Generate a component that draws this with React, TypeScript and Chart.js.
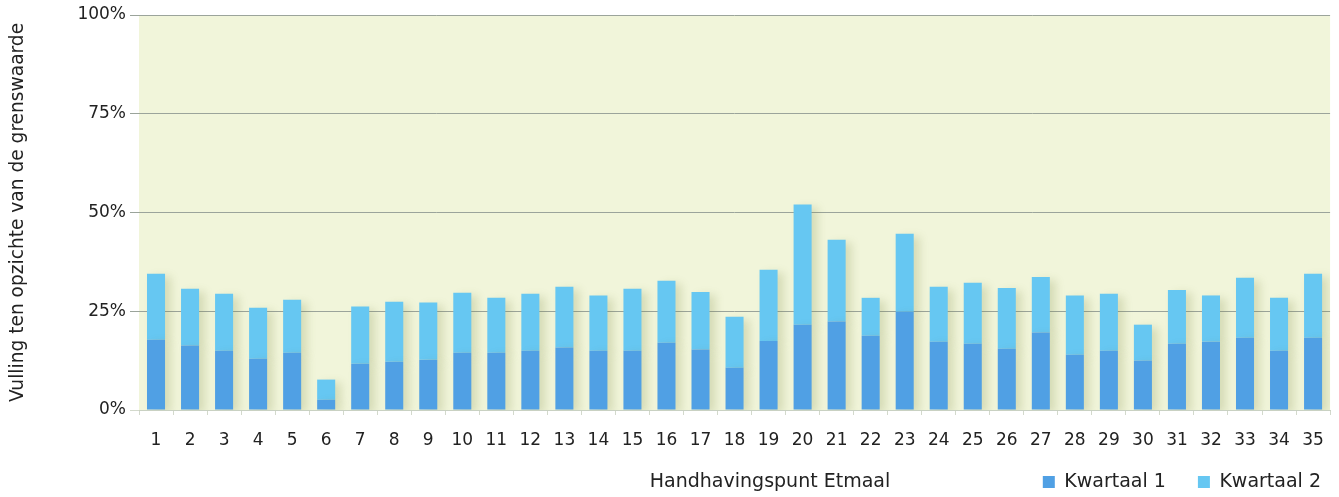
import React, { useEffect, useRef } from "react";
import { Chart, registerables } from "chart.js";

Chart.register(...registerables);

const categories = Array.from({ length: 35 }, (_, i) => String(i + 1));
const kwartaal1 = [
  17.8, 16.3, 15.0, 13.0, 14.5, 2.6, 11.7, 12.2, 12.7, 14.5, 14.5, 15.0, 15.8, 15.0, 15.0, 17.0, 15.3, 10.7,
  17.5, 21.6, 22.4, 18.8, 24.9, 17.3, 16.8, 15.5, 19.6, 14.0, 15.0, 12.5, 16.8, 17.3, 18.3, 15.0, 18.3,
];
const kwartaal2 = [
  16.7, 14.4, 14.4, 12.9, 13.4, 5.1, 14.5, 15.2, 14.5, 15.2, 13.9, 14.4, 15.4, 14.0, 15.7, 15.7, 14.6, 12.9,
  18.0, 30.4, 20.7, 9.6, 19.7, 13.9, 15.4, 15.4, 14.1, 15.0, 14.4, 9.1, 13.6, 11.7, 15.2, 13.4, 16.2,
];
const yTicks = [0, 25, 50, 75, 100];
const seriesNames = ["Kwartaal 1", "Kwartaal 2"];
const yTitle = "Vulling ten opzichte van de grenswaarde";
const xTitle = "Handhavingspunt Etmaal";

const FONT = '"DejaVu Sans", sans-serif';
const TEXT = "#222222";
const LEGEND_PAD = 32;
const LEGEND_FONT = 19;
const LEGEND_FIT_HEIGHT = 40;

const bgPlugin = {
  id: "plotBg",
  beforeDraw(chart: any) {
    const { ctx, chartArea } = chart;
    ctx.save();
    ctx.fillStyle = "#F1F5DA";
    ctx.fillRect(chartArea.left, chartArea.top, chartArea.right - chartArea.left, chartArea.bottom - chartArea.top);
    ctx.restore();
  },
};

const shadowPlugin = {
  id: "barShadow",
  beforeDatasetsDraw(chart: any) {
    const ctx = chart.ctx;
    ctx.save();
    ctx.shadowColor = "rgba(120,130,60,0.22)";
    ctx.shadowBlur = 8;
    ctx.shadowOffsetX = 6;
    ctx.shadowOffsetY = 3;
  },
  afterDatasetsDraw(chart: any) {
    chart.ctx.restore();
  },
};

// Legend sits on the same line as the x-axis title, at the lower right.
const legendPlacePlugin = {
  id: "legendPlace",
  beforeLayout(chart: any) {
    const lg = chart.legend;
    if (lg && !lg.__patched) {
      const orig = lg.fit.bind(lg);
      lg.fit = function () {
        orig();
        this.height = LEGEND_FIT_HEIGHT;
      };
      lg.__patched = true;
    }
  },
  afterLayout(chart: any) {
    const lg = chart.legend;
    if (!lg) return;
    const targetCenter = 482;
    const top = targetCenter - LEGEND_PAD - LEGEND_FONT / 2;
    lg.top = top;
    lg.bottom = chart.height;
    lg.height = lg.bottom - lg.top;
    lg.right = lg.right + 22;
    lg.left = lg.left + 22;
    lg.width = lg.right - lg.left;
  },
};

const xTitlePlugin = {
  id: "xTitleInline",
  afterDraw(chart: any) {
    const { ctx, legend } = chart;
    const y = legend ? legend.top + LEGEND_PAD + LEGEND_FONT / 2 : chart.height - 15;
    ctx.save();
    ctx.font = `19px ${FONT}`;
    ctx.fillStyle = TEXT;
    ctx.textAlign = "center";
    ctx.textBaseline = "middle";
    ctx.fillText(xTitle, 770, y);
    ctx.restore();
  },
};

export default function App() {
  const ref = useRef<HTMLCanvasElement | null>(null);
  useEffect(() => {
    document.body.style.margin = "0";
    if (!ref.current) return;
    const chart = new Chart(ref.current, {
      type: "bar",
      data: {
        labels: categories,
        datasets: [
          {
            label: seriesNames[0],
            data: kwartaal1,
            backgroundColor: "#50A0E4",
            barPercentage: 0.53,
            categoryPercentage: 1,
          },
          {
            label: seriesNames[1],
            data: kwartaal2,
            backgroundColor: "#66C7F2",
            barPercentage: 0.53,
            categoryPercentage: 1,
          },
        ],
      },
      options: {
        responsive: false,
        animation: false,
        layout: { padding: { top: 15, right: 8, left: 0, bottom: 0 } },
        plugins: {
          tooltip: { enabled: false },
          legend: {
            position: "bottom",
            align: "end",
            labels: {
              boxWidth: 12,
              boxHeight: 12,
              padding: LEGEND_PAD,
              color: TEXT,
              font: { family: FONT, size: LEGEND_FONT },
            },
          },
        },
        scales: {
          x: {
            stacked: true,
            grid: {
              offset: true,
              drawOnChartArea: false,
              drawTicks: true,
              tickLength: 5,
              color: "#D3D9CC",
            },
            border: { display: true, color: "#C9D1C2" },
            ticks: { color: TEXT, font: { family: FONT, size: 17 }, padding: 15, maxRotation: 0, autoSkip: false },
            afterFit(scale: any) {
              scale.height = 497 - LEGEND_FIT_HEIGHT - 410;
            },
          },
          y: {
            stacked: true,
            min: 0,
            max: 100,
            afterBuildTicks(scale: any) {
              scale.ticks = yTicks.map((v) => ({ value: v }));
            },
            grid: {
              color: (c: any) => (c.tick && c.tick.value === 0 ? "#D3D9CC" : "#9BA49B"),
              tickLength: 9,
              lineWidth: 1,
            },
            border: { display: false },
            ticks: {
              color: TEXT,
              font: { family: FONT, size: 17 },
              padding: 4,
              callback: (v: any) => `${v}%`,
            },
            title: {
              display: true,
              text: yTitle,
              color: TEXT,
              font: { family: FONT, size: 18.6 },
              padding: { top: 7, bottom: 0 },
            },
            afterFit(scale: any) {
              scale.width = 139;
            },
          },
        },
      },
      plugins: [bgPlugin, shadowPlugin, legendPlacePlugin, xTitlePlugin],
    });
    return () => chart.destroy();
  }, []);
  return (
    <div style={{ width: 1339, height: 497 }}>
      <canvas ref={ref} width={1339} height={497} style={{ display: "block" }} />
    </div>
  );
}
